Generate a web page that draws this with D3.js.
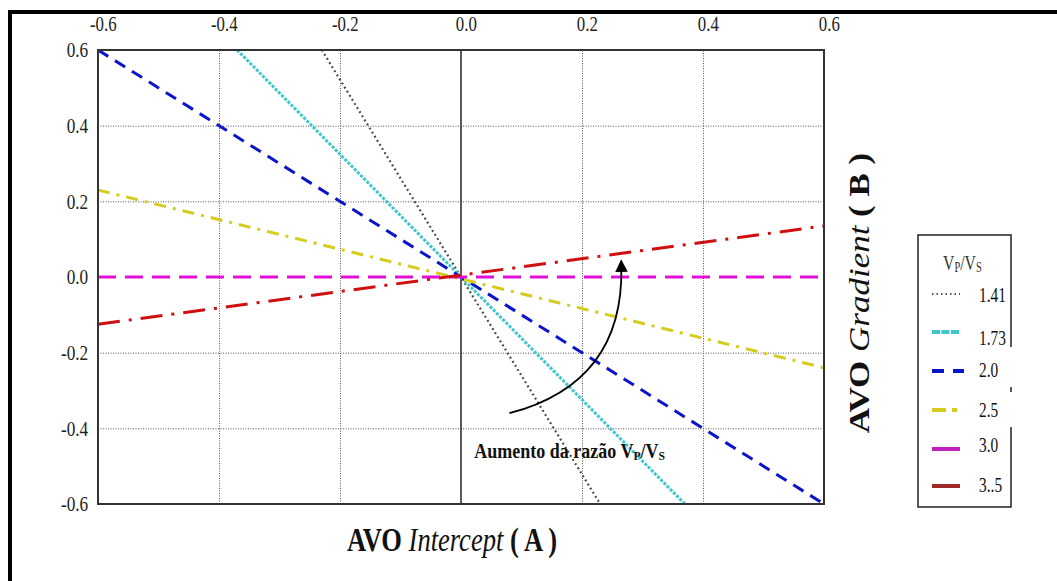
<!DOCTYPE html>
<html>
<head>
<meta charset="utf-8">
<script src="https://cdn.jsdelivr.net/npm/d3@7"></script>
<style>
  body { margin: 0; background: #fff; }
  text { font-family: "Liberation Serif", "Times New Roman", serif; }
</style>
</head>
<body>
<div id="chart-area"></div>
<script>
// Razões Vp/Vs e extremos de cada reta (A, B)
const ratios = ["1.41", "1.73", "2.0", "2.5", "3.0", "3.5"];
const interceptEnds = [[-0.23, 0.23], [-0.37, 0.37], [-0.6, 0.6], [-0.6, 0.6], [-0.6, 0.6], [-0.6, 0.6]];
const gradientEnds = [[0.6, -0.6], [0.6, -0.6], [0.6, -0.6], [0.23, -0.24], [0, 0], [-0.125, 0.135]];
const tickValues = [-0.6, -0.4, -0.2, 0.0, 0.2, 0.4, 0.6];
const gridValues = [-0.4, -0.2, 0.2, 0.4];

const styles = {
    "1.41": { color: "#444444", width: 2.2, dash: "1.8,3", legendColor: "#555555" },
    "1.73": { color: "#3cc8cc", width: 3, dash: "3,1.5", legendColor: "#3cc8cc" },
    "2.0": { color: "#0a14c8", width: 3, dash: "12,8", legendColor: "#0a14c8" },
    "2.5": { color: "#d6cc1e", width: 3, dash: "12,7,3,7", legendColor: "#d6cc1e" },
    "3.0": { color: "#e010d8", width: 3, dash: "18,9", legendColor: "#c020c0" },
    "3.5": { color: "#d01010", width: 3, dash: "22,9,3,9", legendColor: "#a02828" }
};

const W = 1057, H = 581;
const margin = { top: 50, left: 98 };
const width = 726;
const height = 454;

const svg = d3.select("#chart-area")
    .append("svg")
    .attr("width", W)
    .attr("height", H);

// Moldura externa
svg.append("line").attr("x1", 8).attr("x2", W).attr("y1", 12).attr("y2", 12)
    .attr("stroke", "#000").attr("stroke-width", 4);
svg.append("line").attr("x1", 10).attr("x2", 10).attr("y1", 10).attr("y2", H)
    .attr("stroke", "#000").attr("stroke-width", 4);

const g = svg.append("g")
    .attr("transform", `translate(${margin.left},${margin.top})`);

// Escalas
const x = d3.scaleLinear().domain([-0.6, 0.6]).range([0, width]);
const y = d3.scaleLinear().domain([-0.6, 0.6]).range([height, 0]);

// Grade pontilhada
g.append("g")
    .attr("class", "grid x")
    .attr("transform", `translate(0,${height})`)
    .call(d3.axisBottom(x).tickValues(gridValues).tickSize(-height).tickFormat(""))
    .call(s => s.select(".domain").remove())
    .selectAll("line")
    .attr("stroke", "#555")
    .attr("stroke-dasharray", "1,1.5");

g.append("g")
    .attr("class", "grid y")
    .call(d3.axisLeft(y).tickValues(gridValues).tickSize(-width).tickFormat(""))
    .call(s => s.select(".domain").remove())
    .selectAll("line")
    .attr("stroke", "#555")
    .attr("stroke-dasharray", "1,1.5");

// Linha vertical em A = 0
g.append("line")
    .attr("x1", x(0)).attr("x2", x(0))
    .attr("y1", 0).attr("y2", height)
    .attr("stroke", "#222").attr("stroke-width", 1.5);

// Eixos (rótulos) - texto um pouco comprimido na horizontal, como no original
const fmt = d => d.toFixed(1);
g.append("g")
    .attr("class", "top axis")
    .call(d3.axisTop(x).tickValues(tickValues).tickSize(0).tickPadding(19).tickFormat(fmt))
    .attr("font-size", 21)
    .attr("font-family", "Liberation Serif")
    .call(s => s.select(".domain").remove())
    .selectAll("text")
    .attr("dx", 6)
    .attr("transform", "scale(0.8,1)")
    .attr("fill", "#222");

g.append("g")
    .attr("class", "left axis")
    .call(d3.axisLeft(y).tickValues(tickValues).tickSize(0).tickPadding(12).tickFormat(fmt))
    .attr("font-size", 21)
    .attr("font-family", "Liberation Serif")
    .call(s => s.select(".domain").remove())
    .selectAll("text")
    .attr("transform", "scale(0.82,1)")
    .attr("fill", "#222");

// Retas
const series = ratios.map((r, i) => ({
    ratio: r,
    points: interceptEnds[i].map((a, j) => [a, gradientEnds[i][j]])
}));

const line = d3.line().x(d => x(d[0])).y(d => y(d[1]));

g.selectAll("path.series")
    .data(series)
    .enter()
    .append("path")
    .attr("class", "series")
    .attr("d", d => line(d.points))
    .attr("fill", "none")
    .attr("stroke", d => styles[d.ratio].color)
    .attr("stroke-width", d => styles[d.ratio].width)
    .attr("stroke-dasharray", d => styles[d.ratio].dash);

// Borda da área do gráfico
g.append("rect")
    .attr("width", width)
    .attr("height", height)
    .attr("fill", "none")
    .attr("stroke", "#333")
    .attr("stroke-width", 2);

// Seta de anotação
svg.append("defs").append("marker")
    .attr("id", "arrow")
    .attr("viewBox", "0 0 10 10")
    .attr("refX", 5).attr("refY", 5)
    .attr("markerWidth", 7).attr("markerHeight", 9)
    .attr("orient", "auto")
    .append("path")
    .attr("d", "M0,0 L10,5 L0,10 Z")
    .attr("fill", "#000");

const p0 = [x(0.08), y(-0.36)];
const p1 = [x(0.265), y(0.03)];
g.append("path")
    .attr("d", `M${p0[0]},${p0[1]} Q${x(0.27)},${y(-0.28)} ${p1[0]},${p1[1]}`)
    .attr("fill", "none")
    .attr("stroke", "#000")
    .attr("stroke-width", 1.8)
    .attr("marker-end", "url(#arrow)");

const note = g.append("g")
    .attr("transform", `translate(${x(0.022)},${y(-0.478)}) scale(0.9,1)`)
    .append("text")
    .attr("font-size", "20px")
    .attr("font-weight", "bold")
    .attr("fill", "#111");
note.append("tspan").text("Aumento da razão V");
note.append("tspan").attr("font-size", "13px").attr("dy", 2).text("P");
note.append("tspan").attr("dy", -2).text("/V");
note.append("tspan").attr("font-size", "13px").attr("dy", 2).text("S");

// Títulos dos eixos
const xLabel = svg.append("g")
    .attr("transform", "translate(452,551) scale(0.78,1)")
    .append("text")
    .attr("text-anchor", "middle")
    .attr("font-size", "34px")
    .attr("font-weight", "bold")
    .attr("fill", "#111");
xLabel.append("tspan").text("AVO ");
xLabel.append("tspan").attr("font-style", "italic").attr("font-weight", "normal").text("Intercept");
xLabel.append("tspan").text(" ( A )");

const yLabel = svg.append("g")
    .attr("transform", "translate(869,293) rotate(-90) scale(1,0.85)")
    .append("text")
    .attr("text-anchor", "middle")
    .attr("font-size", "35px")
    .attr("font-weight", "bold")
    .attr("fill", "#111");
yLabel.append("tspan").text("AVO ");
yLabel.append("tspan").attr("font-style", "italic").attr("font-weight", "normal").text("Gradient");
yLabel.append("tspan").text(" ( B )");

// Legenda
const legend = svg.append("g").attr("transform", "translate(918,235)");
legend.append("rect")
    .attr("width", 93)
    .attr("height", 272)
    .attr("fill", "#fff");
legend.append("path")
    .attr("d", "M93,112 L93,0 L0,0 L0,272 L93,272 L93,192 M93,152 L93,157")
    .attr("fill", "none")
    .attr("stroke", "#222")
    .attr("stroke-width", 1.5);

const title = legend.append("g")
    .attr("transform", "translate(25,35) scale(0.75,1)")
    .append("text")
    .attr("font-size", "21px")
    .attr("fill", "#333");
title.append("tspan").text("V");
title.append("tspan").attr("font-size", "14px").attr("dy", 2).text("P");
title.append("tspan").attr("dy", -2).text("/V");
title.append("tspan").attr("font-size", "14px").attr("dy", 2).text("S");

const legendLineY = [59, 97, 136, 175, 214, 251];
const legendTextY = [67, 110, 142, 182, 217, 257];
const items = legend.selectAll("g.item")
    .data(series)
    .enter()
    .append("g")
    .attr("class", "item");

items.append("line")
    .attr("x1", 14).attr("x2", d => d.ratio === "2.0" ? 46 : 42)
    .attr("y1", (d, i) => legendLineY[i]).attr("y2", (d, i) => legendLineY[i])
    .attr("stroke", d => styles[d.ratio].legendColor)
    .attr("stroke-width", d => d.ratio === "1.41" ? 2 : 4)
    .attr("stroke-dasharray", d => {
        if (d.ratio === "1.41") return "1.5,3";
        if (d.ratio === "1.73") return "8,1.5";
        if (d.ratio === "2.0") return "12,9";
        if (d.ratio === "2.5") return "14,6,5,6";
        return null;
    });

items.append("g")
    .attr("transform", (d, i) => `translate(61,${legendTextY[i]}) scale(0.7,1)`)
    .append("text")
    .attr("font-size", "22px")
    .attr("fill", "#111")
    .text(d => d.ratio === "3.5" ? "3..5" : d.ratio);
</script>
</body>
</html>
